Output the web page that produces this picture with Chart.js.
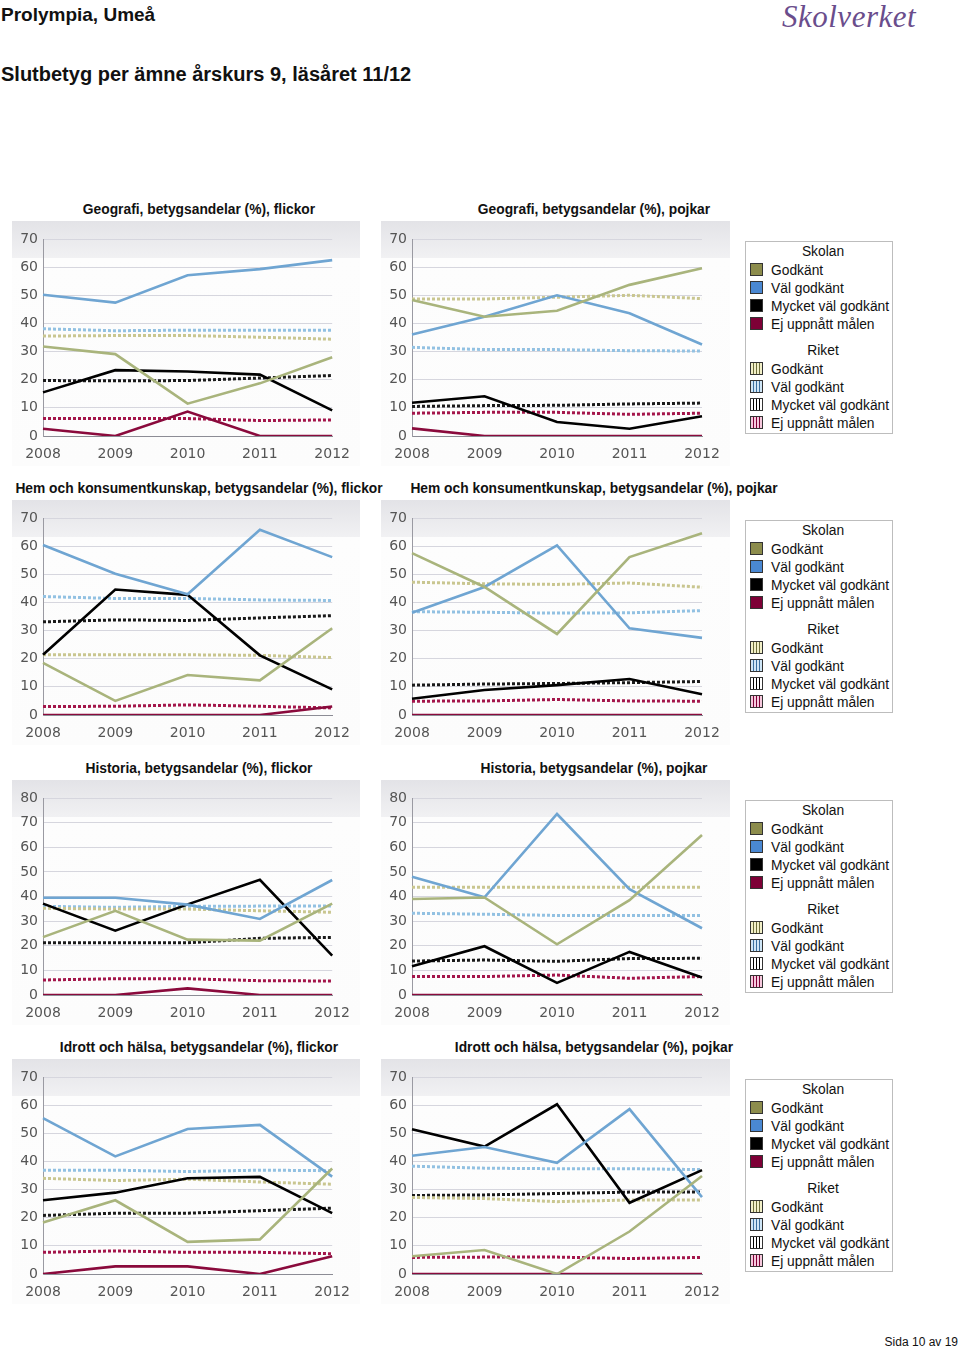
<!DOCTYPE html>
<html><head><meta charset="utf-8">
<script src="https://cdn.jsdelivr.net/npm/chart.js@4.4.1/dist/chart.umd.min.js"></script>
<style>
body{margin:0;width:960px;height:1348px;background:#fff;position:relative;font-family:"Liberation Sans",Arial,sans-serif;overflow:hidden}
.abs{position:absolute}
.h1{left:1px;top:4px;font-weight:bold;font-size:19px;color:#111}
.h2{left:1px;top:63px;font-weight:bold;font-size:20px;color:#111}
.logo{left:782px;top:-1px;font-family:"Liberation Serif",serif;font-style:italic;font-size:31px;color:#6a4d8c;letter-spacing:0.5px}
.foot{right:2px;top:1335px;font-size:12px;color:#111}
.ttl{font-weight:bold;font-size:13.8px;color:#111;white-space:nowrap;transform:translateX(-50%)}
.panel{background:linear-gradient(to bottom,#e3e3e7 0px,#f1f1f3 37px,#fdfdfd 37px,#fcfcfc 100%)}
.leg{width:146px;height:191px;border:1px solid #bdbdbd;background:#fff;font-size:13.8px;color:#111}
.leg .hd{position:absolute;left:4px;width:146px;text-align:center}
.leg .it{position:absolute;left:4px;white-space:nowrap}
.leg .sw{display:inline-block;width:11px;height:11px;border:1px solid #333;vertical-align:-1px;margin-right:8px}
</style></head><body>
<div class="abs h1">Prolympia, Umeå</div>
<div class="abs logo">Skolverket</div>
<div class="abs h2">Slutbetyg per ämne årskurs 9, läsåret 11/12</div>
<div class="abs foot">Sida 10 av 19</div>
<div id="root"></div>
<script>
const years = ['2008','2009','2010','2011','2012'];
const seriesNames = ['Godkänt','Väl godkänt','Mycket väl godkänt','Ej uppnått målen'];

// Geografi flickor
const geoF_G   = [31.8, 29.1, 11.5, 18.7, 28.0];
const geoF_VG  = [50.2, 47.4, 57.1, 59.3, 62.5];
const geoF_MVG = [15.5, 23.4, 22.9, 21.8, 9.1];
const geoF_IG  = [2.6, 0, 8.7, 0, 0];
const geoF_rG   = [35.5, 35.7, 35.7, 35.1, 34.4];
const geoF_rVG  = [38.1, 37.4, 37.6, 37.6, 37.6];
const geoF_rMVG = [19.7, 19.6, 19.7, 20.6, 21.5];
const geoF_rIG  = [6.2, 6.2, 6.2, 5.5, 5.7];
// Geografi pojkar
const geoP_G   = [48.3, 42.4, 44.5, 53.7, 59.6];
const geoP_VG  = [36.1, 42.4, 50.0, 43.6, 32.5];
const geoP_MVG = [11.8, 14.1, 5.0, 2.6, 7.0];
const geoP_IG  = [2.7, 0, 0, 0, 0];
const geoP_rG   = [48.7, 48.7, 49.3, 50.0, 48.8];
const geoP_rVG  = [31.5, 30.7, 30.7, 30.3, 30.2];
const geoP_rMVG = [10.5, 10.8, 10.9, 11.4, 11.7];
const geoP_rIG  = [8.1, 8.4, 8.4, 7.7, 8.1];
// Hem och konsumentkunskap flickor
const hkF_G   = [18.5, 5.0, 14.2, 12.3, 30.8];
const hkF_VG  = [60.4, 50.2, 42.9, 65.8, 56.1];
const hkF_MVG = [21.4, 44.6, 42.7, 21.2, 9.1];
const hkF_IG  = [0, 0, 0, 0, 3.0];
const hkF_rG   = [21.4, 21.4, 21.4, 21.2, 20.4];
const hkF_rVG  = [42.1, 41.4, 41.4, 40.9, 40.7];
const hkF_rMVG = [33.1, 33.8, 33.6, 34.5, 35.3];
const hkF_rIG  = [3.0, 3.1, 3.6, 3.1, 2.5];
// Hem och konsumentkunskap pojkar
const hkP_G   = [57.5, 45.5, 28.8, 56.1, 64.6];
const hkP_VG  = [36.3, 45.5, 60.3, 30.8, 27.4];
const hkP_MVG = [5.8, 8.9, 10.6, 12.8, 7.4];
const hkP_IG  = [0, 0, 0, 0, 0];
const hkP_rG   = [47.2, 46.6, 46.4, 46.9, 45.4];
const hkP_rVG  = [36.7, 36.5, 36.2, 36.3, 37.1];
const hkP_rMVG = [10.6, 11.0, 11.2, 11.5, 11.9];
const hkP_rIG  = [4.9, 5.0, 5.5, 5.0, 4.9];
// Historia flickor
const hiF_G   = [23.5, 34.2, 22.5, 22.1, 37.1];
const hiF_VG  = [39.5, 39.5, 36.7, 30.9, 46.7];
const hiF_MVG = [37.1, 26.1, 36.8, 46.8, 16.0];
const hiF_IG  = [0, 0, 2.7, 0, 0];
const hiF_rG   = [35.2, 34.9, 34.9, 34.2, 33.6];
const hiF_rVG  = [36.0, 35.6, 36.0, 36.1, 36.1];
const hiF_rMVG = [21.2, 21.2, 21.2, 23.0, 23.4];
const hiF_rIG  = [6.1, 6.6, 6.6, 5.8, 5.7];
// Historia pojkar
const hiP_G   = [39.0, 39.6, 20.6, 38.5, 65.0];
const hiP_VG  = [48.0, 39.7, 73.5, 43.0, 27.1];
const hiP_MVG = [11.7, 19.8, 4.9, 17.5, 7.1];
const hiP_IG  = [0, 0, 0, 0, 0];
const hiP_rG   = [43.8, 43.8, 43.8, 43.8, 43.8];
const hiP_rVG  = [33.2, 32.8, 32.3, 32.3, 32.3];
const hiP_rMVG = [13.8, 14.2, 13.7, 14.8, 14.9];
const hiP_rIG  = [7.5, 7.5, 8.1, 6.8, 7.5];
// Idrott och hälsa flickor
const idF_G   = [18.3, 26.2, 11.4, 12.3, 37.5];
const idF_VG  = [55.4, 41.8, 51.5, 53.0, 34.6];
const idF_MVG = [26.2, 28.9, 34.0, 34.5, 21.6];
const idF_IG  = [0, 2.7, 2.7, 0, 6.3];
const idF_rG   = [34.0, 33.2, 33.7, 32.7, 31.9];
const idF_rVG  = [36.9, 36.9, 36.4, 36.9, 36.7];
const idF_rMVG = [20.8, 21.6, 21.6, 22.5, 23.4];
const idF_rIG  = [7.7, 8.2, 7.7, 7.7, 7.2];
// Idrott och hälsa pojkar
const idP_G   = [6.3, 8.5, 0, 15.1, 34.8];
const idP_VG  = [42.0, 45.1, 39.5, 58.6, 27.3];
const idP_MVG = [51.4, 45.3, 60.3, 25.3, 36.9];
const idP_IG  = [0, 0, 0, 0, 0];
const idP_rG   = [27.2, 26.8, 25.7, 26.3, 26.3];
const idP_rVG  = [38.3, 37.6, 37.4, 37.4, 37.1];
const idP_rMVG = [27.9, 28.1, 28.6, 29.1, 29.1];
const idP_rIG  = [5.9, 6.0, 6.0, 5.5, 5.9];

const charts = [
  {title:'Geografi, betygsandelar (%), flickor', max:70, s:[geoF_G,geoF_VG,geoF_MVG,geoF_IG], r:[geoF_rG,geoF_rVG,geoF_rMVG,geoF_rIG]},
  {title:'Geografi, betygsandelar (%), pojkar', max:70, s:[geoP_G,geoP_VG,geoP_MVG,geoP_IG], r:[geoP_rG,geoP_rVG,geoP_rMVG,geoP_rIG]},
  {title:'Hem och konsumentkunskap, betygsandelar (%), flickor', max:70, s:[hkF_G,hkF_VG,hkF_MVG,hkF_IG], r:[hkF_rG,hkF_rVG,hkF_rMVG,hkF_rIG]},
  {title:'Hem och konsumentkunskap, betygsandelar (%), pojkar', max:70, s:[hkP_G,hkP_VG,hkP_MVG,hkP_IG], r:[hkP_rG,hkP_rVG,hkP_rMVG,hkP_rIG]},
  {title:'Historia, betygsandelar (%), flickor', max:80, s:[hiF_G,hiF_VG,hiF_MVG,hiF_IG], r:[hiF_rG,hiF_rVG,hiF_rMVG,hiF_rIG]},
  {title:'Historia, betygsandelar (%), pojkar', max:80, s:[hiP_G,hiP_VG,hiP_MVG,hiP_IG], r:[hiP_rG,hiP_rVG,hiP_rMVG,hiP_rIG]},
  {title:'Idrott och hälsa, betygsandelar (%), flickor', max:70, s:[idF_G,idF_VG,idF_MVG,idF_IG], r:[idF_rG,idF_rVG,idF_rMVG,idF_rIG]},
  {title:'Idrott och hälsa, betygsandelar (%), pojkar', max:70, s:[idP_G,idP_VG,idP_MVG,idP_IG], r:[idP_rG,idP_rVG,idP_rMVG,idP_rIG]}
];

const solidColors = ['#a9b47c','#6fa5d2','#000000','#8a0a3c'];
const dotColors   = ['#c9c690','#92c1e2','#1a1a1a','#a3154a'];
const swatchSchool = ['#8c8c4c','#4a88d2','#000000','#7d0036'];
const swatchRiket = [
  'repeating-linear-gradient(to right,#f2f0c8 0 2px,#6d6d3a 2px 3px)',
  'repeating-linear-gradient(to right,#cfe6f7 0 2px,#3a6f9e 2px 3px)',
  'repeating-linear-gradient(to right,#ffffff 0 2px,#000000 2px 3px)',
  'repeating-linear-gradient(to right,#f6c8dd 0 2px,#7d0036 2px 3px)'
];

const rowTops = [221, 500, 780, 1059];
const colX = [12, 381];
const titleCX = [199, 594];
const root = document.getElementById('root');

charts.forEach((c, i) => {
  const row = Math.floor(i/2), col = i%2;
  const top = rowTops[row];
  const t = document.createElement('div');
  t.className = 'abs ttl';
  t.style.left = titleCX[col] + 'px';
  t.style.top = (top - 19) + 'px';
  t.textContent = c.title;
  root.appendChild(t);

  const w = col === 0 ? 348 : 349;
  const p = document.createElement('div');
  p.className = 'abs panel';
  p.style.left = colX[col] + 'px'; p.style.top = top + 'px';
  p.style.width = w + 'px'; p.style.height = '245px';
  const cv = document.createElement('canvas');
  cv.width = w; cv.height = 245;
  cv.style.width = w + 'px'; cv.style.height = '245px';
  p.appendChild(cv);
  root.appendChild(p);

  const ds = [];
  c.s.forEach((arr, k) => ds.push({label: seriesNames[k] + ' (Skolan)', data: arr, borderColor: solidColors[k], borderWidth: 2.6, pointRadius: 0, tension: 0, fill: false, order: 1}));
  c.r.forEach((arr, k) => ds.push({label: seriesNames[k] + ' (Riket)', data: arr, borderColor: dotColors[k], borderWidth: 3, borderDash: [3, 2], borderCapStyle: 'butt', pointRadius: 0, tension: 0, fill: false, order: 2}));

  new Chart(cv, {
    type: 'line',
    data: {labels: years, datasets: ds},
    options: {
      responsive: false, animation: false, events: [],
      layout: {padding: {top: 18, right: col === 0 ? 27 : 28, left: 0, bottom: 0}},
      plugins: {legend: {display: false}, tooltip: {enabled: false}},
      scales: {
        x: {
          offset: false,
          grid: {display: false, drawTicks: false},
          border: {display: true, color: '#8c8c95', width: 1},
          ticks: {color: '#555', font: {family: 'DejaVu Sans', size: 14}, padding: 10, maxRotation: 0, autoSkip: false},
          afterFit: s => { s.height = 30; }
        },
        y: {
          min: 0, max: c.max,
          grid: {color: '#d6d6de', lineWidth: 1, drawTicks: false},
          border: {display: true, color: '#9a9aa2', width: 1},
          ticks: {stepSize: 10, color: '#555', font: {family: 'DejaVu Sans', size: 14}, padding: 5},
          afterFit: s => { s.width = 31; }
        }
      }
    }
  });

  if (col === 1) {
    const lg = document.createElement('div');
    lg.className = 'abs leg';
    lg.style.left = '745px';
    lg.style.top = (top + 20) + 'px';
    let h = '<div class="hd" style="top:2px">Skolan</div>';
    seriesNames.forEach((n, k) => {
      h += `<div class="it" style="top:${20.5 + k*18.3}px"><span class="sw" style="background:${swatchSchool[k]}"></span>${n}</div>`;
    });
    h += '<div class="hd" style="top:101px">Riket</div>';
    seriesNames.forEach((n, k) => {
      h += `<div class="it" style="top:${119.5 + k*18.3}px"><span class="sw" style="background:${swatchRiket[k]}"></span>${n}</div>`;
    });
    lg.innerHTML = h;
    root.appendChild(lg);
  }
});
</script>
</body></html>
